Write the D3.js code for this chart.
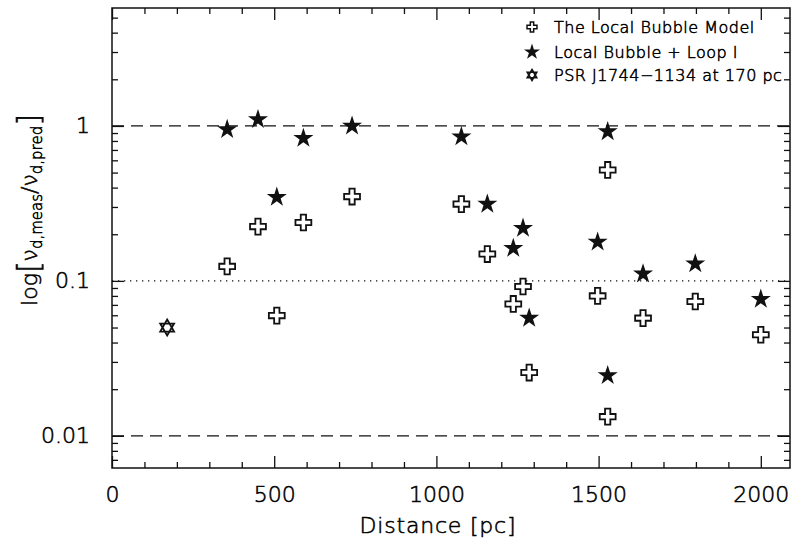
<!DOCTYPE html>
<html>
<head>
<meta charset="utf-8">
<script src="https://cdn.jsdelivr.net/npm/d3@7"></script>
<style>
  body { margin: 0; background: #fff; }
  svg text { font-family: "DejaVu Sans", sans-serif; font-weight: 200; fill: #000; stroke: #000; stroke-width: 0.55px; }
</style>
</head>
<body>
<svg id="chart" width="793" height="543"></svg>
<script>
(function() {
  var distances, bubbleValues, loopValues, psrDistance, psrValue, xMajor, yMajor, yLabels, legendLabels;
  var svg, x, y, axisB, axisT, axisL, axisR, xMinor, yMinor, cross, star, david, yTitle, legend;

  // pulsar distances [pc], shared by both models
  distances = [355, 450, 508, 590, 740, 1077, 1157, 1237, 1267, 1286, 1497, 1528, 1528, 1637, 1798, 2000];
  bubbleValues = [0.124, 0.224, 0.0597, 0.238, 0.35, 0.313, 0.149, 0.071, 0.092, 0.0256, 0.080, 0.52, 0.0133, 0.0575, 0.0736, 0.0449];
  loopValues = [0.95, 1.10, 0.347, 0.833, 1.0, 0.853, 0.313, 0.1625, 0.219, 0.0575, 0.178, 0.919, 0.0245, 0.111, 0.129, 0.0762];
  psrDistance = [170];
  psrValue = [0.050];

  xMajor = [0, 500, 1000, 1500, 2000];
  yMajor = [0.01, 0.1, 1];
  yLabels = ['0.01', '0.1', '1'];
  legendLabels = ['The Local Bubble Model', 'Local Bubble + Loop I', 'PSR J1744\u22121134 at 170 pc'];

  svg = d3.select('#chart');

  x = d3.scaleLinear().domain([0, 2090]).range([112, 790]);
  y = d3.scaleLog().domain([0.0062, 5.77]).range([468, 8]);

  xMinor = d3.range(0, 2100, 100).filter(function(d) { return xMajor.indexOf(d) < 0; });
  yMinor = y.ticks().filter(function(d) {
    return yMajor.every(function(m) { return Math.abs(d - m) > 1e-9; });
  });

  // reference lines
  svg.append('line').attr('x1', x.range()[0]).attr('x2', x.range()[1])
    .attr('y1', y(1)).attr('y2', y(1))
    .attr('stroke', '#111').attr('stroke-width', 1.3).attr('stroke-dasharray', '12,7');
  svg.append('line').attr('x1', x.range()[0]).attr('x2', x.range()[1])
    .attr('y1', y(0.01)).attr('y2', y(0.01))
    .attr('stroke', '#111').attr('stroke-width', 1.3).attr('stroke-dasharray', '12,7');
  svg.append('line').attr('x1', x.range()[0]).attr('x2', x.range()[1])
    .attr('y1', y(0.1)).attr('y2', y(0.1))
    .attr('stroke', '#111').attr('stroke-width', 1.2).attr('stroke-dasharray', '1.3,4.7');

  function styleAxis(g) {
    g.select('.domain').remove();
    g.selectAll('line').attr('stroke', '#111').attr('stroke-width', 1.3);
    g.selectAll('text').style('font-size', '22px').attr('fill', '#000');
  }

  axisB = d3.axisBottom(x).tickValues(xMajor).tickSize(-12).tickPadding(18).tickFormat(d3.format('d'));
  svg.append('g').attr('transform', 'translate(0,468)').call(axisB).call(styleAxis);
  svg.append('g').attr('transform', 'translate(0,468)')
    .call(d3.axisBottom(x).tickValues(xMinor).tickSize(-6).tickFormat('')).call(styleAxis);

  axisT = d3.axisTop(x).tickValues(xMajor).tickSize(-12).tickFormat('');
  svg.append('g').attr('transform', 'translate(0,8)').call(axisT).call(styleAxis);
  svg.append('g').attr('transform', 'translate(0,8)')
    .call(d3.axisTop(x).tickValues(xMinor).tickSize(-6).tickFormat('')).call(styleAxis);

  axisL = d3.axisLeft(y).tickValues(yMajor).tickSize(-12).tickPadding(22)
    .tickFormat(function(d, i) { return yLabels[i]; });
  svg.append('g').attr('transform', 'translate(112,0)').call(axisL).call(styleAxis);
  svg.append('g').attr('transform', 'translate(112,0)')
    .call(d3.axisLeft(y).tickValues(yMinor).tickSize(-6).tickFormat('')).call(styleAxis);

  axisR = d3.axisRight(y).tickValues(yMajor).tickSize(-12).tickFormat('');
  svg.append('g').attr('transform', 'translate(790,0)').call(axisR).call(styleAxis);
  svg.append('g').attr('transform', 'translate(790,0)')
    .call(d3.axisRight(y).tickValues(yMinor).tickSize(-6).tickFormat('')).call(styleAxis);

  // frame
  svg.append('rect').attr('x', 112).attr('y', 8).attr('width', 678).attr('height', 460)
    .attr('fill', 'none').attr('stroke', '#111').attr('stroke-width', 1.5);

  // axis titles
  svg.append('text').attr('x', 438).attr('y', 533).attr('text-anchor', 'middle')
    .style('font-size', '22px').style('letter-spacing', '0.8px').text('Distance [pc]');

  yTitle = svg.append('text').attr('transform', 'translate(37,210) rotate(-90)')
    .attr('text-anchor', 'middle').style('font-size', '22px');
  yTitle.append('tspan').text('log');
  yTitle.append('tspan').style('font-size', '30px').attr('dy', 2).text('[');
  yTitle.append('tspan').attr('dy', -2).text('\u03bd');
  yTitle.append('tspan').attr('dy', 5).style('font-size', '15px').text('d,meas');
  yTitle.append('tspan').attr('dy', -5).text('/');
  yTitle.append('tspan').text('\u03bd');
  yTitle.append('tspan').attr('dy', 5).style('font-size', '15px').text('d,pred');
  yTitle.append('tspan').attr('dy', -3).style('font-size', '30px').text(']');

  // markers
  david = {
    draw: function(ctx, size) {
      var r = Math.sqrt(size) / 2, s = r * Math.sin(Math.PI / 3);
      ctx.moveTo(0, -r); ctx.lineTo(s, r / 2); ctx.lineTo(-s, r / 2); ctx.closePath();
      ctx.moveTo(0, r); ctx.lineTo(s, -r / 2); ctx.lineTo(-s, -r / 2); ctx.closePath();
    }
  };
  cross = function(size) { return d3.symbol().type(d3.symbolCross).size(size)(); };
  star = function(size) { return d3.symbol().type(d3.symbolStar).size(size)(); };

  svg.append('g').selectAll('path').data(distances).enter().append('path')
    .attr('transform', function(d, i) { return 'translate(' + x(d) + ',' + y(bubbleValues[i]) + ')'; })
    .attr('d', cross(140)).attr('fill', '#fff').attr('stroke', '#111').attr('stroke-width', 1.8);

  svg.append('g').selectAll('path').data(distances).enter().append('path')
    .attr('transform', function(d, i) { return 'translate(' + x(d) + ',' + y(loopValues[i]) + ')'; })
    .attr('d', star(125)).attr('fill', '#111');

  svg.append('g').selectAll('path').data(psrDistance).enter().append('path')
    .attr('transform', function(d, i) { return 'translate(' + x(d) + ',' + y(psrValue[i]) + ')'; })
    .attr('d', d3.symbol().type(david).size(256)()).attr('fill', 'none')
    .attr('stroke', '#111').attr('stroke-width', 1.8);

  // legend
  legend = svg.append('g');
  legend.append('path').attr('transform', 'translate(532,27)').attr('d', cross(55))
    .attr('fill', '#fff').attr('stroke', '#111').attr('stroke-width', 1.5);
  legend.append('path').attr('transform', 'translate(532,52)').attr('d', star(80)).attr('fill', '#111');
  legend.append('path').attr('transform', 'translate(532,75)').attr('d', d3.symbol().type(david).size(121)())
    .attr('fill', 'none').attr('stroke', '#111').attr('stroke-width', 1.6);
  legend.selectAll('text').data(legendLabels).enter().append('text')
    .attr('x', 554).attr('y', function(d, i) { return [33, 58, 81][i]; })
    .style('font-size', '16px').style('letter-spacing', '0.5px').text(function(d) { return d; });
}).call(this);
</script>
</body>
</html>
